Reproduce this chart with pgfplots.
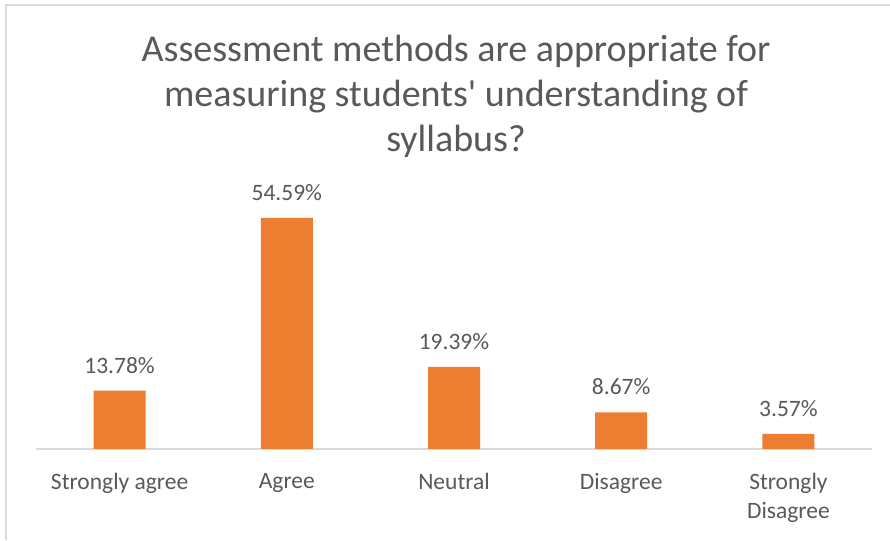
\documentclass[border=0pt]{standalone}
\usepackage{pgfplots}
\pgfplotsset{compat=1.18}
\usepackage{fontspec}
\setmainfont{Carlito}[Ligatures=TeXOff]
\definecolor{barorange}{HTML}{ED7D31}
\definecolor{txtgray}{HTML}{595959}
\definecolor{linegray}{HTML}{D9D9D9}
\begin{document}
\begin{tikzpicture}[x=1pt,y=1pt]
\path[use as bounding box] (0,0) rectangle (890,540);
\fill[white] (0,0) rectangle (890,540);
\draw[linegray, line width=1.5pt] (6,0) -- (6,535) -- (890,535);
\node[txtgray, align=center, font=\fontsize{38}{45}\selectfont, anchor=center] at (456,444)
  {Assessment methods are appropriate for\\measuring students' understanding of\\syllabus?};
\begin{axis}[
  at={(36pt,91pt)}, anchor=south west,
  scale only axis, width=836pt, height=253.9pt,
  xmin=-0.5, xmax=4.5, ymin=0, ymax=60,
  axis x line*=bottom, axis y line=none,
  x axis line style={linegray, line width=1.2pt, -},
  xtick=data, major tick length=0pt,
  xticklabels={Strongly agree, Agree, Neutral, Disagree, {Strongly\\Disagree}},
  xticklabel style={txtgray, font=\fontsize{23.5}{29}\selectfont, align=center, anchor=north, inner sep=0pt, yshift=-24pt},
  ybar, bar width=52pt,
  nodes near coords={\pgfmathprintnumber[fixed,precision=2,fixed zerofill]{\pgfplotspointmeta}\%},
  every node near coord/.append style={txtgray, font=\fontsize{23.5}{28}\selectfont, inner sep=0pt, anchor=south, yshift=17pt},
  /pgf/number format/assume math mode=true,
  clip=false,
]
\addplot[fill=barorange, draw=none] coordinates {(0,13.78) (1,54.59) (2,19.39) (3,8.67) (4,3.57)};
\end{axis}
\end{tikzpicture}
\end{document}
